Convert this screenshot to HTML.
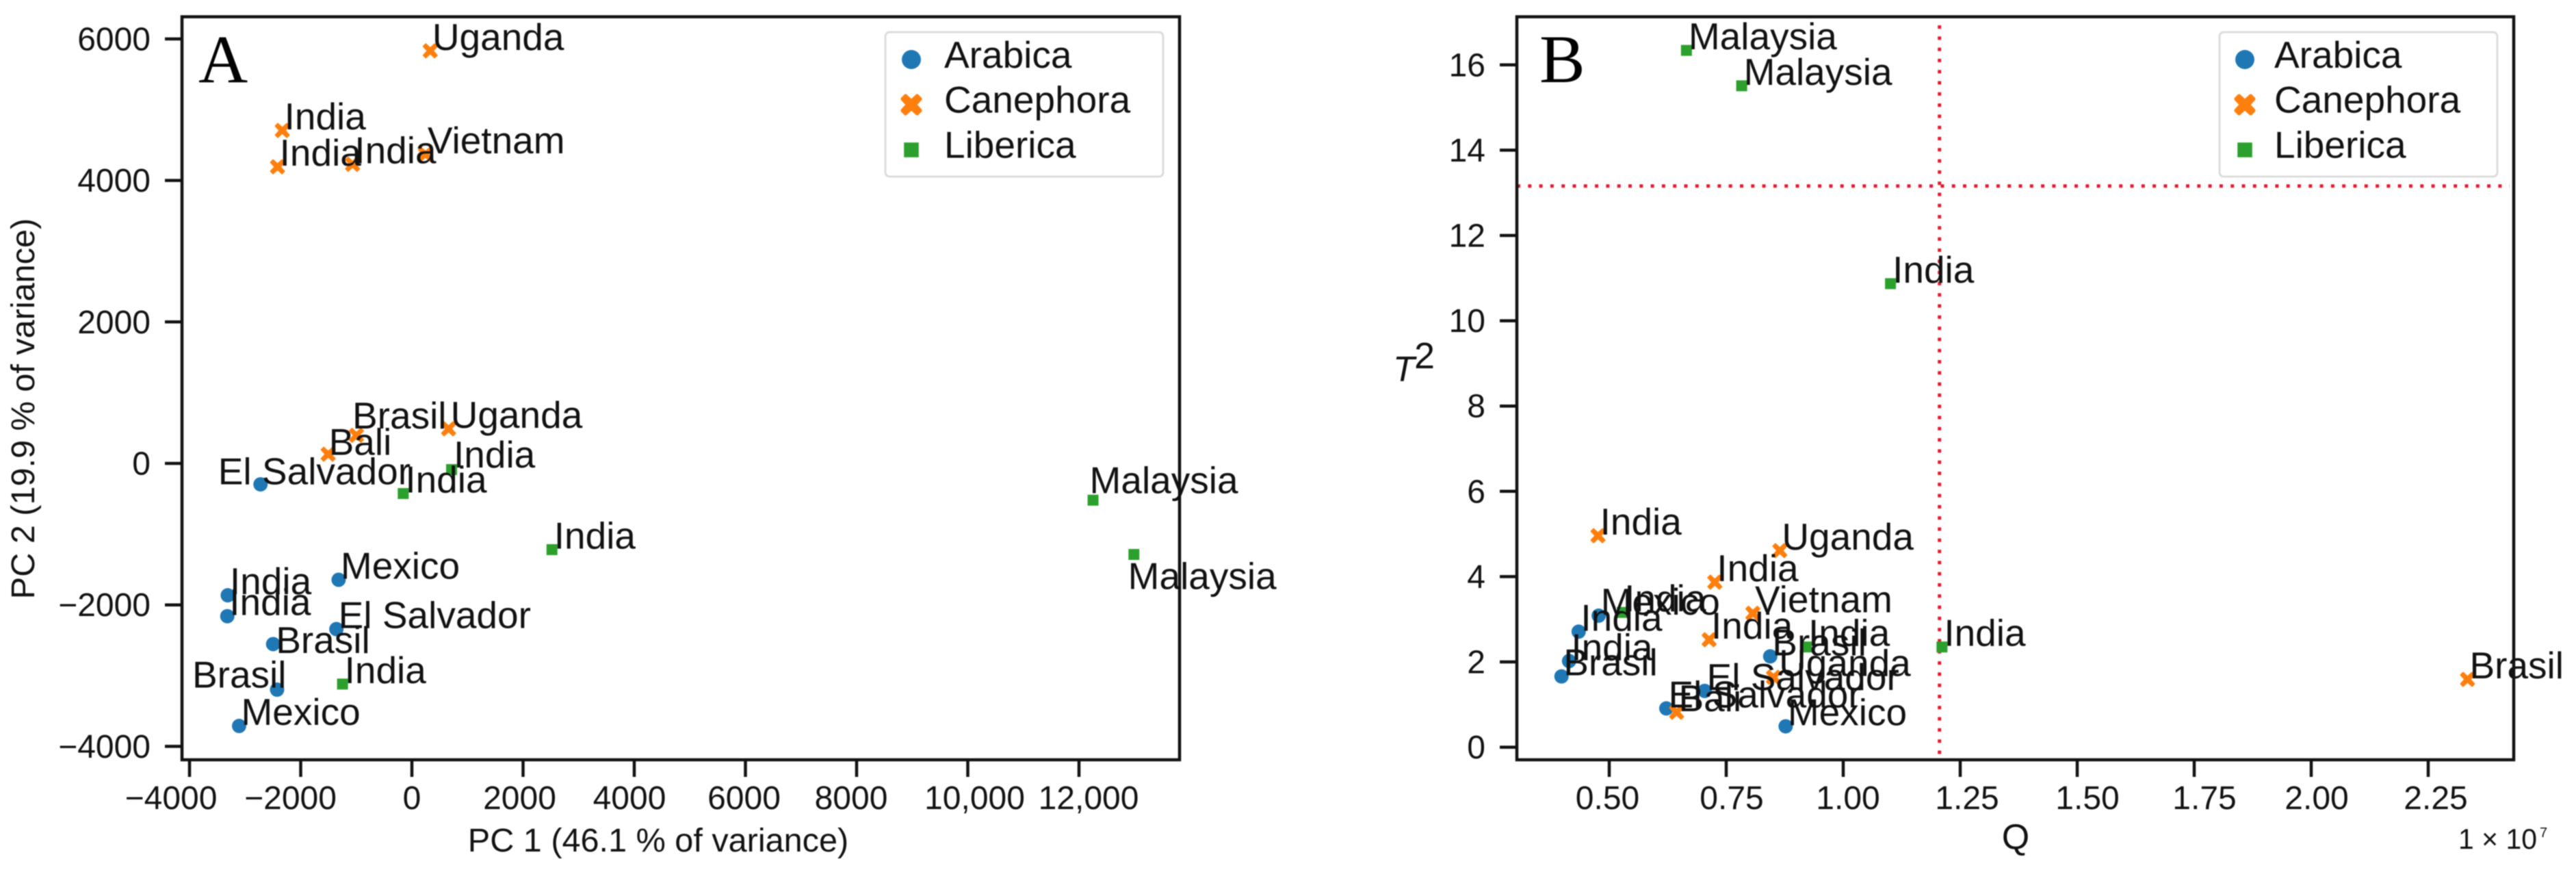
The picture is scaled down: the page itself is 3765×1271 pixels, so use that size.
<!DOCTYPE html>
<html lang="en">
<head>
<meta charset="utf-8">
<title>PCA scores and T2 vs Q plots</title>
<style>
html,body{margin:0;padding:0;background:#fff;}
svg{display:block;font-family:"Liberation Sans",Arial,sans-serif;fill:#111;filter:blur(0.7px);}
</style>
</head>
<body>
<svg id="chart" xmlns="http://www.w3.org/2000/svg" width="3765" height="1271" viewBox="0 0 3765 1271"></svg>
<script>
// Panel A: PCA scores
const arabicaCountriesA = ['El Salvador','Mexico','India','India','El Salvador','Brasil','Brasil','Mexico'];
const arabicaPC1 = [-2723,-1318,-3312,-3320,-1358,-2496,-2425,-3108];
const arabicaPC2 = [-296,-1645,-1864,-2160,-2342,-2554,-3198,-3711];
const canephoraCountriesA = ['Uganda','India','India','India','Vietnam','Brasil','Uganda','Bali'];
const canephoraPC1 = [330,-2331,-2417,-1067,244,-997,660,-1506];
const canephoraPC2 = [5832,4706,4193,4228,4370,397,489,130];
const libericaCountriesA = ['India','India','India','India','Malaysia','Malaysia'];
const libericaPC1 = [714,-156,2520,-1248,12253,12988];
const libericaPC2 = [-87,-426,-1219,-3119,-520,-1287];
const xTicksA = [-4000,-2000,0,2000,4000,6000,8000,10000,12000];
const xTickLabelsA = ['\u22124000','\u22122000','0','2000','4000','6000','8000','10,000','12,000'];
const yTicksA = [-4000,-2000,0,2000,4000,6000];
const yTickLabelsA = ['\u22124000','\u22122000','0','2000','4000','6000'];

// Panel B: T2 vs Q
const arabicaCountriesB = ['Mexico','India','India','Brasil','Brasil','El Salvador','El Salvador','Mexico'];
const arabicaQ = [0.4775,0.4347,0.4142,0.398,0.844,0.704,0.622,0.877];
const arabicaT2 = [3.085,2.71,2.02,1.66,2.13,1.32,0.91,0.49];
const canephoraCountriesB = ['India','Uganda','India','Vietnam','India','Uganda','Bali','Brasil'];
const canephoraQ = [0.476,0.8645,0.7256,0.807,0.7135,0.851,0.644,2.334];
const canephoraT2 = [4.96,4.61,3.87,3.14,2.52,1.64,0.82,1.59];
const libericaCountriesB = ['Malaysia','Malaysia','India','India','India','India'];
const libericaQ = [0.665,0.783,1.101,0.528,0.921,1.211];
const libericaT2 = [16.34,15.51,10.87,3.16,2.35,2.35];
const xTicksB = [0.5,0.75,1,1.25,1.5,1.75,2,2.25];
const xTickLabelsB = ['0.50','0.75','1.00','1.25','1.50','1.75','2.00','2.25'];
const yTicksB = [0,2,4,6,8,10,12,14,16];
const yTickLabelsB = ['0','2','4','6','8','10','12','14','16'];
const qLimit = [1.2057];
const t2Limit = [13.16];
const speciesNames = ['Arabica','Canephora','Liberica'];

const NS = 'http://www.w3.org/2000/svg';
const INK = '#111';
const COLORS = ['#1f77b4','#ff7f0e','#2ca02c'];
const root = document.getElementById('chart');

function mk(parent, tag, attrs, name, interactable) {
  const el = document.createElementNS(NS, tag);
  for (const k in attrs) el.setAttribute(k, attrs[k]);
  
  
  parent.appendChild(el);
  return el;
}
function txt(parent, x, y, s, size, name, extra) {
  const el = mk(parent, 'text', Object.assign({x:x, y:y, 'font-size':size, fill:INK}, extra || {}), name, false);
  el.textContent = s;
  return el;
}
function marker(parent, kind, x, y, k, name, fat) {
  if (kind === 0) {
    mk(parent, 'circle', {cx:x, cy:y, r:10.5*k, fill:COLORS[0]}, name, false);
  } else if (kind === 1) {
    mk(parent, 'path', {
      d:'M-10,-6.5 L-6.5,-10 L0,-4 L6.5,-10 L10,-6.5 L4,0 L10,6.5 L6.5,10 L0,4 L-6.5,10 L-10,6.5 L-4,0 Z',
      transform:'translate('+x+' '+y+') scale('+k+')', fill:COLORS[1],
      stroke:COLORS[1], 'stroke-width':fat || 2, 'stroke-linejoin':'round'
    }, name, false);
  } else {
    mk(parent, 'rect', {x:x-8*k, y:y-8*k, width:16*k, height:16*k, fill:COLORS[2]}, name, false);
  }
}

function drawPanel(p) {
  const g = mk(root, 'g', {}, 'panel-' + p.id, false);

  // ticks
  p.xTicks.forEach(function (t, i) {
    const x = p.sx(t);
    mk(g, 'line', {x1:x, x2:x, y1:p.bottom, y2:p.bottom+25, stroke:INK, 'stroke-width':4.5}, 'x-tick-' + p.xLabels[i], false);
    txt(g, x + p.xNudge[i], 1182, p.xLabels[i], 48, 'x-tick-label-' + p.xLabels[i], {'text-anchor':'middle'});
  });
  p.yTicks.forEach(function (t, i) {
    const y = p.sy(t);
    mk(g, 'line', {x1:p.left-25, x2:p.left, y1:y, y2:y, stroke:INK, 'stroke-width':4.5}, 'y-tick-' + p.yLabels[i], false);
    txt(g, p.left-46, y+16.5, p.yLabels[i], 48, 'y-tick-label-' + p.yLabels[i], {'text-anchor':'end'});
  });

  // threshold lines under the marks
  if (p.vLine !== undefined) {
    mk(g, 'line', {x1:p.sx(p.vLine), x2:p.sx(p.vLine), y1:37, y2:1107, stroke:'#e01b2e', 'stroke-width':5, 'stroke-dasharray':'5 11.3'}, 'q-limit-line', false);
    mk(g, 'line', {x1:p.left, x2:p.right-6, y1:p.sy(p.hLine), y2:p.sy(p.hLine), stroke:'#e01b2e', 'stroke-width':5, 'stroke-dasharray':'5 11.3'}, 't2-limit-line', false);
  }

  // marks
  p.series.forEach(function (s, k) {
    s.xs.forEach(function (v, i) {
      marker(g, k, p.sx(v), p.sy(s.ys[i]), 1, speciesNames[k].toLowerCase() + '-point-' + s.names[i].toLowerCase().replace(' ', '-'));
    });
  });

  // frame
  mk(g, 'rect', {x:p.left, y:p.top, width:p.right-p.left, height:p.bottom-p.top, fill:'none', stroke:INK, 'stroke-width':4.5}, 'plot-frame', false);

  // point labels
  p.series.forEach(function (s, k) {
    s.xs.forEach(function (v, i) {
      const n = p.labelNudge[k + '-' + i] || [3, -1.5];
      txt(g, p.sx(v)+n[0], p.sy(s.ys[i])+n[1], s.names[i], 55, 'point-label-' + s.names[i].toLowerCase().replace(' ', '-'));
    });
  });

  // panel letter
  txt(g, p.letterX, 120, p.id, 100, 'panel-letter-' + p.id, {'font-family':'"Liberation Serif",serif', fill:'#000'});

  // legend
  const lg = mk(g, 'g', {}, 'legend', false);
  mk(lg, 'rect', {x:p.legendX, y:47, width:406, height:211, rx:6, ry:6, fill:'#fff', stroke:'#dcdcdc', 'stroke-width':3}, 'legend-box', false);
  const rowMarkY = [87, 153, 219];
  const rowTextY = [99, 164.5, 230.5];
  speciesNames.forEach(function (name, k) {
    const ent = mk(lg, 'g', {}, 'legend-entry-' + name.toLowerCase(), true);
    marker(ent, k, p.legendMarkX, rowMarkY[k], k === 0 ? 1.33 : (k === 1 ? 1.3 : 1.35), 'legend-marker-' + name.toLowerCase(), 4);
    txt(ent, p.legendTextX, rowTextY[k], name, 55, 'legend-label-' + name.toLowerCase());
  });
  return g;
}

const gA = drawPanel({
  id:'A', left:266, right:1724, top:24.5, bottom:1110,
  sx:function (v) { return 602 + v*0.08125; },
  sy:function (v) { return 677 - v*0.10335; },
  xTicks:xTicksA, xLabels:xTickLabelsA, yTicks:yTicksA, yLabels:yTickLabelsA,
  xNudge:[-27,-15,0,-5,-7,-2,-8,10,14],
  series:[
    {names:arabicaCountriesA, xs:arabicaPC1, ys:arabicaPC2},
    {names:canephoraCountriesA, xs:canephoraPC1, ys:canephoraPC2},
    {names:libericaCountriesA, xs:libericaPC1, ys:libericaPC2}
  ],
  labelNudge:{'0-0':[-62,0],'0-5':[4,13],'0-6':[-124,-3],'1-5':[-6,-10],'1-7':[1,1],'2-0':[3,-3],'2-4':[-5,-10],'2-5':[-8.6,50.6]},
  letterX:290, legendX:1294, legendMarkX:1332, legendTextX:1380
});
const gB = drawPanel({
  id:'B', left:2217, right:3674, top:24.5, bottom:1110,
  sx:function (v) { return 2352 + (v-0.5)*684; },
  sy:function (v) { return 1091.6 - v*62.3; },
  xTicks:xTicksB, xLabels:xTickLabelsB, yTicks:yTicksB, yLabels:yTickLabelsB,
  xNudge:[-2.5,8,7,10,15,15,8,11],
  series:[
    {names:arabicaCountriesB, xs:arabicaQ, ys:arabicaT2},
    {names:canephoraCountriesB, xs:canephoraQ, ys:canephoraT2},
    {names:libericaCountriesB, xs:libericaQ, ys:libericaT2}
  ],
  labelNudge:{'1-5':[8,-2]},
  vLine:qLimit[0], hLine:t2Limit[0],
  letterX:2250, legendX:3244, legendMarkX:3281, legendTextX:3324
});

// axis titles
txt(gA, 962, 1244, 'PC 1 (46.1 % of variance)', 48.6, 'x-axis-title-pc1', {'text-anchor':'middle'});
txt(gA, 50, 597, 'PC 2 (19.9 % of variance)', 48.6, 'y-axis-title-pc2', {'text-anchor':'middle', transform:'rotate(-90 50 597)'});
txt(gB, 2946, 1240, 'Q', 52, 'x-axis-title-q', {'text-anchor':'middle'});
const t2 = mk(gB, 'g', {}, 'y-axis-title-t2', false);
txt(t2, 2036, 557, 'T', 52, 'y-axis-title-t', {'font-style':'italic'});
txt(t2, 2067, 538, '2', 54, 'y-axis-title-exponent');
const off = mk(gB, 'g', {}, 'x-axis-offset', false);
txt(off, 3593, 1240, '1 \u00d7 10', 42, 'x-axis-offset-base', {textLength:115, lengthAdjust:'spacingAndGlyphs'});
txt(off, 3712, 1223, '7', 20, 'x-axis-offset-exponent');
</script>
</body>
</html>
